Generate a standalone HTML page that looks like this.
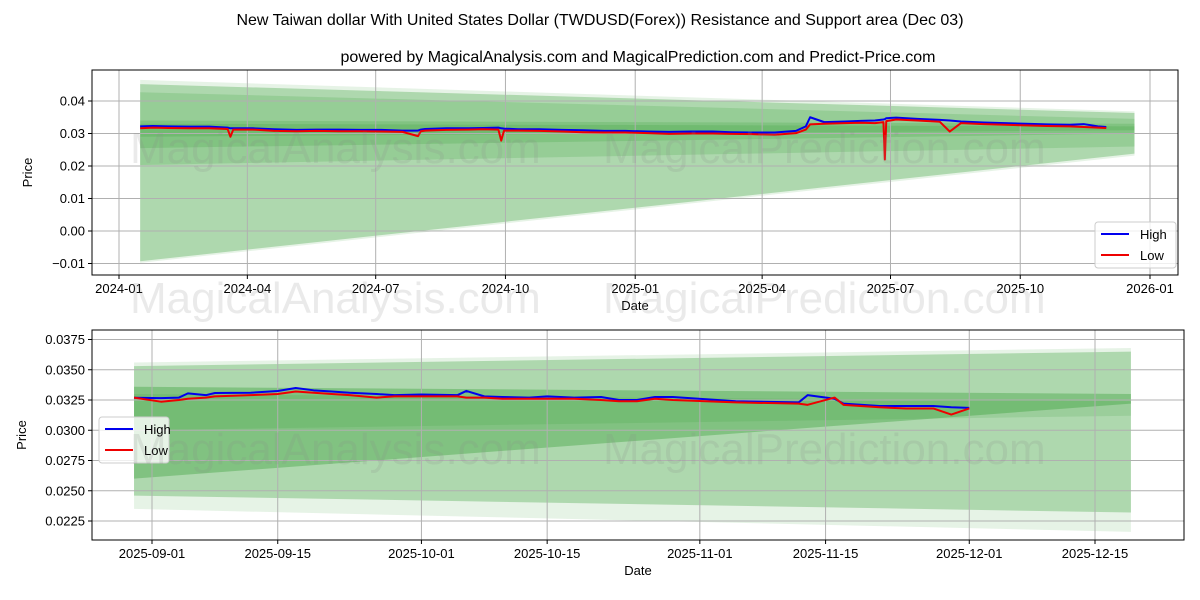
<!DOCTYPE html>
<html><head><meta charset="utf-8"><style>
body{margin:0;background:#fff;}
svg{display:block;font-family:"Liberation Sans","DejaVu Sans",sans-serif;}
</style></head><body>
<svg id="chart" width="1200" height="600" viewBox="0 0 1200 600" xmlns="http://www.w3.org/2000/svg">
<text x="600" y="25" text-anchor="middle" font-size="16">New Taiwan dollar With United States Dollar (TWDUSD(Forex)) Resistance and Support area (Dec 03)</text>
<text x="638" y="62" text-anchor="middle" font-size="16">powered by MagicalAnalysis.com and MagicalPrediction.com and Predict-Price.com</text>
<g id="top"></g>
<g id="bot"></g>
<g font-size="44" fill="#888" fill-opacity="0.18">
<text x="130" y="163">MagicalAnalysis.com</text><text x="603" y="163">MagicalPrediction.com</text>
<text x="130" y="313">MagicalAnalysis.com</text><text x="603" y="313">MagicalPrediction.com</text>
<text x="130" y="464">MagicalAnalysis.com</text><text x="603" y="464">MagicalPrediction.com</text>
</g>
</svg>
<script>
// ---------- top chart data ----------
const topDates=["2024-01-16","2024-01-25","2024-02-05","2024-02-20","2024-03-05","2024-03-18","2024-03-20","2024-03-22","2024-04-05","2024-04-20","2024-05-06","2024-05-20","2024-06-05","2024-06-20","2024-07-05","2024-07-20","2024-07-31","2024-08-02","2024-08-05","2024-08-20","2024-09-05","2024-09-15","2024-09-26","2024-09-28","2024-09-30","2024-10-10","2024-10-25","2024-11-10","2024-11-25","2024-12-10","2024-12-25","2025-01-10","2025-01-25","2025-02-10","2025-02-25","2025-03-10","2025-03-25","2025-04-10","2025-04-25","2025-05-02","2025-05-05","2025-05-15","2025-05-30","2025-06-10","2025-06-20","2025-06-26","2025-06-27","2025-06-28","2025-07-05","2025-07-20","2025-08-05","2025-08-12","2025-08-20","2025-09-05","2025-09-20","2025-10-05","2025-10-20","2025-11-05","2025-11-15","2025-11-25","2025-12-01"];
const topHigh=[0.0322,0.0323,0.0322,0.0321,0.0321,0.0318,0.0316,0.0316,0.0316,0.0313,0.0311,0.0312,0.0312,0.0311,0.0311,0.0309,0.0309,0.0312,0.0314,0.0316,0.0316,0.0317,0.0318,0.0316,0.0315,0.0313,0.0313,0.0311,0.0310,0.0308,0.0308,0.0306,0.0305,0.0306,0.0306,0.0304,0.0303,0.0303,0.0308,0.0322,0.0350,0.0335,0.0337,0.0339,0.0340,0.0343,0.0344,0.0347,0.0349,0.0345,0.0342,0.0340,0.0337,0.0334,0.0332,0.0330,0.0328,0.0327,0.0329,0.0322,0.0320];
const topLow=[0.0316,0.0318,0.0317,0.0316,0.0316,0.0314,0.0290,0.0312,0.0312,0.0308,0.0307,0.0308,0.0307,0.0307,0.0306,0.0305,0.0292,0.0307,0.0309,0.0311,0.0312,0.0313,0.0312,0.0278,0.0309,0.0309,0.0308,0.0306,0.0304,0.0303,0.0303,0.0301,0.0299,0.0300,0.0300,0.0299,0.0298,0.0296,0.0301,0.0312,0.0328,0.0330,0.0332,0.0333,0.0332,0.0335,0.0220,0.0338,0.0343,0.0340,0.0336,0.0306,0.0332,0.0329,0.0327,0.0325,0.0323,0.0322,0.0320,0.0318,0.0317];
const topYTicks=[0.04,0.03,0.02,0.01,0.00,-0.01];
const topYLabels=["0.04","0.03","0.02","0.01","0.00","−0.01"];
const topXTicks=["2024-01-01","2024-04-01","2024-07-01","2024-10-01","2025-01-01","2025-04-01","2025-07-01","2025-10-01","2026-01-01"];
const topXLabels=["2024-01","2024-04","2024-07","2024-10","2025-01","2025-04","2025-07","2025-10","2026-01"];
const topBandStart="2024-01-16", topBandEnd="2025-12-21";
const topBands=[[0.0465,0.0368,-0.0098,0.0232],[0.0452,0.0363,-0.0093,0.0238],[0.0427,0.0345,0.0203,0.0260],[0.0340,0.0330,0.0255,0.0300],[0.0330,0.0322,0.0290,0.0310]];
const topBandAlpha=[0.12,0.3,0.18,0.2,0.2];

// ---------- bottom chart data ----------
const botDates=["2025-08-30","2025-09-02","2025-09-04","2025-09-05","2025-09-07","2025-09-08","2025-09-12","2025-09-15","2025-09-17","2025-09-19","2025-09-21","2025-09-23","2025-09-26","2025-09-28","2025-10-01","2025-10-05","2025-10-06","2025-10-08","2025-10-10","2025-10-13","2025-10-15","2025-10-18","2025-10-21","2025-10-23","2025-10-25","2025-10-27","2025-10-29","2025-11-05","2025-11-12","2025-11-13","2025-11-16","2025-11-17","2025-11-21","2025-11-24","2025-11-27","2025-11-29","2025-12-01"];
const botHigh=[0.03269,0.03265,0.0327,0.03305,0.0329,0.03308,0.0331,0.03324,0.03349,0.0333,0.0332,0.0331,0.0330,0.0329,0.03295,0.0329,0.03325,0.0328,0.03275,0.0327,0.0328,0.0327,0.03275,0.0325,0.0325,0.03275,0.03275,0.0324,0.0323,0.0329,0.0326,0.0322,0.0320,0.0320,0.0320,0.0319,0.03185];
const botLow=[0.0327,0.03236,0.0325,0.0326,0.0327,0.0328,0.0329,0.0330,0.0332,0.0331,0.0330,0.0329,0.0327,0.0328,0.0328,0.0328,0.0327,0.0327,0.0326,0.0326,0.0326,0.0326,0.0325,0.0324,0.0324,0.0326,0.0325,0.0323,0.0322,0.0321,0.0327,0.0321,0.0319,0.0318,0.0318,0.0313,0.0318];
const botYTicks=[0.0375,0.0350,0.0325,0.0300,0.0275,0.0250,0.0225];
const botYLabels=["0.0375","0.0350","0.0325","0.0300","0.0275","0.0250","0.0225"];
const botXTicks=["2025-09-01","2025-09-15","2025-10-01","2025-10-15","2025-11-01","2025-11-15","2025-12-01","2025-12-15"];
const botXLabels=botXTicks;
const botBandStart="2025-08-30", botBandEnd="2025-12-19";
const botBands=[[0.0356,0.0368,0.0235,0.0216],[0.0353,0.0365,0.0246,0.0232],[0.0336,0.0330,0.0260,0.0322],[0.0330,0.0324,0.0300,0.0312]];
const botBandAlpha=[0.12,0.3,0.35,0.15];

const NS="http://www.w3.org/2000/svg";
function mk(parent,tag,attrs){const e=document.createElementNS(NS,tag);for(const k in attrs)e.setAttribute(k,attrs[k]);parent.appendChild(e);return e;}
function day(s){return Date.parse(s+"T00:00:00Z")/86400000;}

function panel(g,cfg){
  const {x0,x1,y0,y1,d0,px0,d1,px1,v0,py0,v1,py1}=cfg;
  const X=d=>px0+(day(d)-day(d0))*(px1-px0)/(day(d1)-day(d0));
  const Y=v=>py0+(v-v0)*(py1-py0)/(v1-v0);
  const bg=mk(g,'rect',{x:x0,y:y0,width:x1-x0,height:y1-y0,fill:'#fff'});
  
  
  cfg.bands.forEach((b,i)=>{
    const xs=X(cfg.bs),xe=X(cfg.be);
    const p=mk(g,'polygon',{points:`${xs},${Y(b[0])} ${xe},${Y(b[1])} ${xe},${Y(b[3])} ${xs},${Y(b[2])}`,fill:'#2e9a2e','fill-opacity':cfg.alpha[i]});
    
    
  });
  cfg.yt.forEach((v,i)=>{
    const y=Y(v);
    mk(g,'line',{x1:x0,x2:x1,y1:y,y2:y,stroke:'#b0b0b0','stroke-width':1});
    mk(g,'line',{x1:x0-4,x2:x0,y1:y,y2:y,stroke:'#000'});
    const t=mk(g,'text',{x:x0-7,y:y+4.5,'text-anchor':'end','font-size':13});
    t.textContent=cfg.yl[i];
    
    
  });
  cfg.xt.forEach((d,i)=>{
    const x=X(d);
    mk(g,'line',{x1:x,x2:x,y1:y0,y2:y1,stroke:'#b0b0b0','stroke-width':1});
    mk(g,'line',{x1:x,x2:x,y1:y1,y2:y1+4,stroke:'#000'});
    const t=mk(g,'text',{x:x,y:y1+18,'text-anchor':'middle','font-size':13});
    t.textContent=cfg.xl[i];
    
    
  });
  const hi=mk(g,'polyline',{points:cfg.dates.map((d,i)=>X(d)+','+Y(cfg.hi[i])).join(' '),fill:'none',stroke:'#0000ee','stroke-width':2,'stroke-linejoin':'round'});
  
  
  const lo=mk(g,'polyline',{points:cfg.dates.map((d,i)=>X(d)+','+Y(cfg.lo[i])).join(' '),fill:'none',stroke:'#ee0000','stroke-width':2,'stroke-linejoin':'round'});
  
  
  const fr=mk(g,'rect',{x:x0,y:y0,width:x1-x0,height:y1-y0,fill:'none',stroke:'#000','stroke-width':1});
  
  
  const xl=mk(g,'text',{x:(x0+x1)/2,y:y1+35,'text-anchor':'middle','font-size':13});
  xl.textContent='Date';
  
  
  const yl=mk(g,'text',{x:cfg.ylx,y:(y0+y1)/2,'text-anchor':'middle','font-size':13,transform:`rotate(-90 ${cfg.ylx} ${(y0+y1)/2})`});
  yl.textContent='Price';
  
  
  const L=cfg.leg;
  const lg=mk(g,'g',{});
  
  
  mk(lg,'rect',{x:L.x,y:L.y,width:L.w,height:46,rx:3,fill:'#fff','fill-opacity':0.8,stroke:'#ccc'});
  [['High','#0000ee'],['Low','#ee0000']].forEach((e,i)=>{
    const yy=L.y+12+i*21;
    mk(lg,'line',{x1:L.x+6,x2:L.x+34,y1:yy,y2:yy,stroke:e[1],'stroke-width':2});
    const t=mk(lg,'text',{x:L.x+45,y:yy+5,'font-size':13});
    t.textContent=e[0];
    
    
  });
}
panel(document.getElementById('top'),{x0:92,x1:1178,y0:70,y1:275,d0:"2024-01-01",px0:119,d1:"2026-01-01",px1:1150,v0:0.04,py0:101,v1:-0.01,py1:263.5,
  bands:topBands,alpha:topBandAlpha,bs:topBandStart,be:topBandEnd,yt:topYTicks,yl:topYLabels,xt:topXTicks,xl:topXLabels,
  dates:topDates,hi:topHigh,lo:topLow,ylx:32,leg:{x:1095,y:222,w:81}});
panel(document.getElementById('bot'),{x0:92,x1:1184,y0:330,y1:540,d0:"2025-09-01",px0:152,d1:"2025-12-15",px1:1095,v0:0.0375,py0:339.5,v1:0.0225,py1:521,
  bands:botBands,alpha:botBandAlpha,bs:botBandStart,be:botBandEnd,yt:botYTicks,yl:botYLabels,xt:botXTicks,xl:botXLabels,
  dates:botDates,hi:botHigh,lo:botLow,ylx:26,leg:{x:99,y:417,w:70}});
</script>
</body></html>
